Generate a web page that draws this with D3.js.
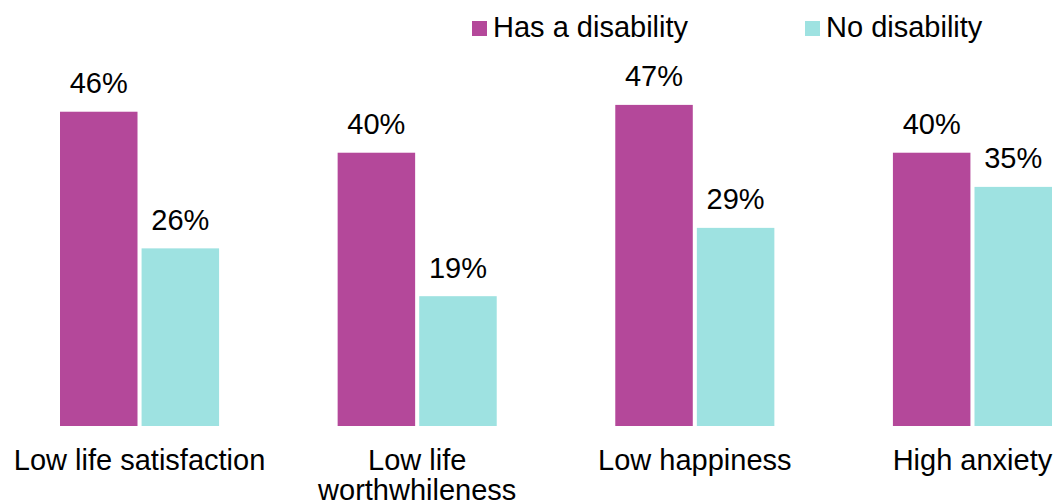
<!DOCTYPE html>
<html>
<head>
<meta charset="utf-8">
<script src="https://cdn.jsdelivr.net/npm/d3@7"></script>
<style>
  html, body { margin: 0; padding: 0; background: #fff; }
  svg { display: block; font-family: "Liberation Sans", Arial, sans-serif; }
</style>
</head>
<body>
<svg id="chart" width="1056" height="503"></svg>
<script>
// Categories (each may wrap onto several lines)
const categories = ["Low life satisfaction", "Low life worthwhileness", "Low happiness", "High anxiety"];
const categoryLines = [["Low life satisfaction"], ["Low life", "worthwhileness"], ["Low happiness"], ["High anxiety"]];
const seriesNames = ["Has a disability", "No disability"];
const hasDisability = [46, 40, 47, 40];
const noDisability = [26, 19, 29, 35];
const seriesColors = ["#b4489a", "#9ee2e1"];

const fontSize = 29;
const svg = d3.select("#chart");
const baseline = 426;

const x0 = d3.scaleBand().domain(categories).range([60, 1052]).paddingInner(0.427).paddingOuter(0);
const x1 = d3.scaleBand().domain(seriesNames).range([0, x0.bandwidth()]).paddingInner(0.05).paddingOuter(0);
const y = d3.scaleLinear().domain([0, 50]).range([baseline, baseline - 341.6]);

const rows = categories.map((c, i) => ({
  cat: c,
  lines: categoryLines[i],
  vals: [
    { s: seriesNames[0], v: hasDisability[i], color: seriesColors[0] },
    { s: seriesNames[1], v: noDisability[i], color: seriesColors[1] }
  ]
}));

const groups = svg.selectAll("g.group").data(rows).join("g")
  .attr("class", "group")
  .attr("transform", d => `translate(${x0(d.cat)},0)`);

groups.selectAll("rect").data(d => d.vals).join("rect")
  .attr("x", d => x1(d.s))
  .attr("y", d => y(d.v))
  .attr("width", x1.bandwidth())
  .attr("height", d => y(0) - y(d.v))
  .attr("fill", d => d.color);

groups.selectAll("text.val").data(d => d.vals).join("text")
  .attr("class", "val")
  .attr("x", d => x1(d.s) + x1.bandwidth() / 2)
  .attr("y", d => y(d.v) - 18.5)
  .attr("text-anchor", "middle")
  .attr("font-size", fontSize)
  .attr("fill", "#000")
  .text(d => d.v + "%");

// Category axis labels
const labels = groups.append("text")
  .attr("text-anchor", "middle")
  .attr("font-size", fontSize)
  .attr("fill", "#000")
  .attr("x", x0.bandwidth() / 2)
  .attr("y", 470);
labels.selectAll("tspan").data(d => d.lines).join("tspan")
  .attr("x", x0.bandwidth() / 2)
  .attr("dy", (d, i) => i === 0 ? 0 : 29.5)
  .text(d => d);

// Legend
const legendX = [472, 805];
const legend = svg.selectAll("g.legend").data(seriesNames).join("g")
  .attr("class", "legend")
  .attr("transform", (d, i) => `translate(${legendX[i]},0)`);
legend.append("rect")
  .attr("x", 0).attr("y", 21)
  .attr("width", 15).attr("height", 15)
  .attr("fill", (d, i) => seriesColors[i]);
legend.append("text")
  .attr("x", 21).attr("y", 37)
  .attr("font-size", fontSize)
  .attr("fill", "#000")
  .text(d => d);
</script>
</body>
</html>
